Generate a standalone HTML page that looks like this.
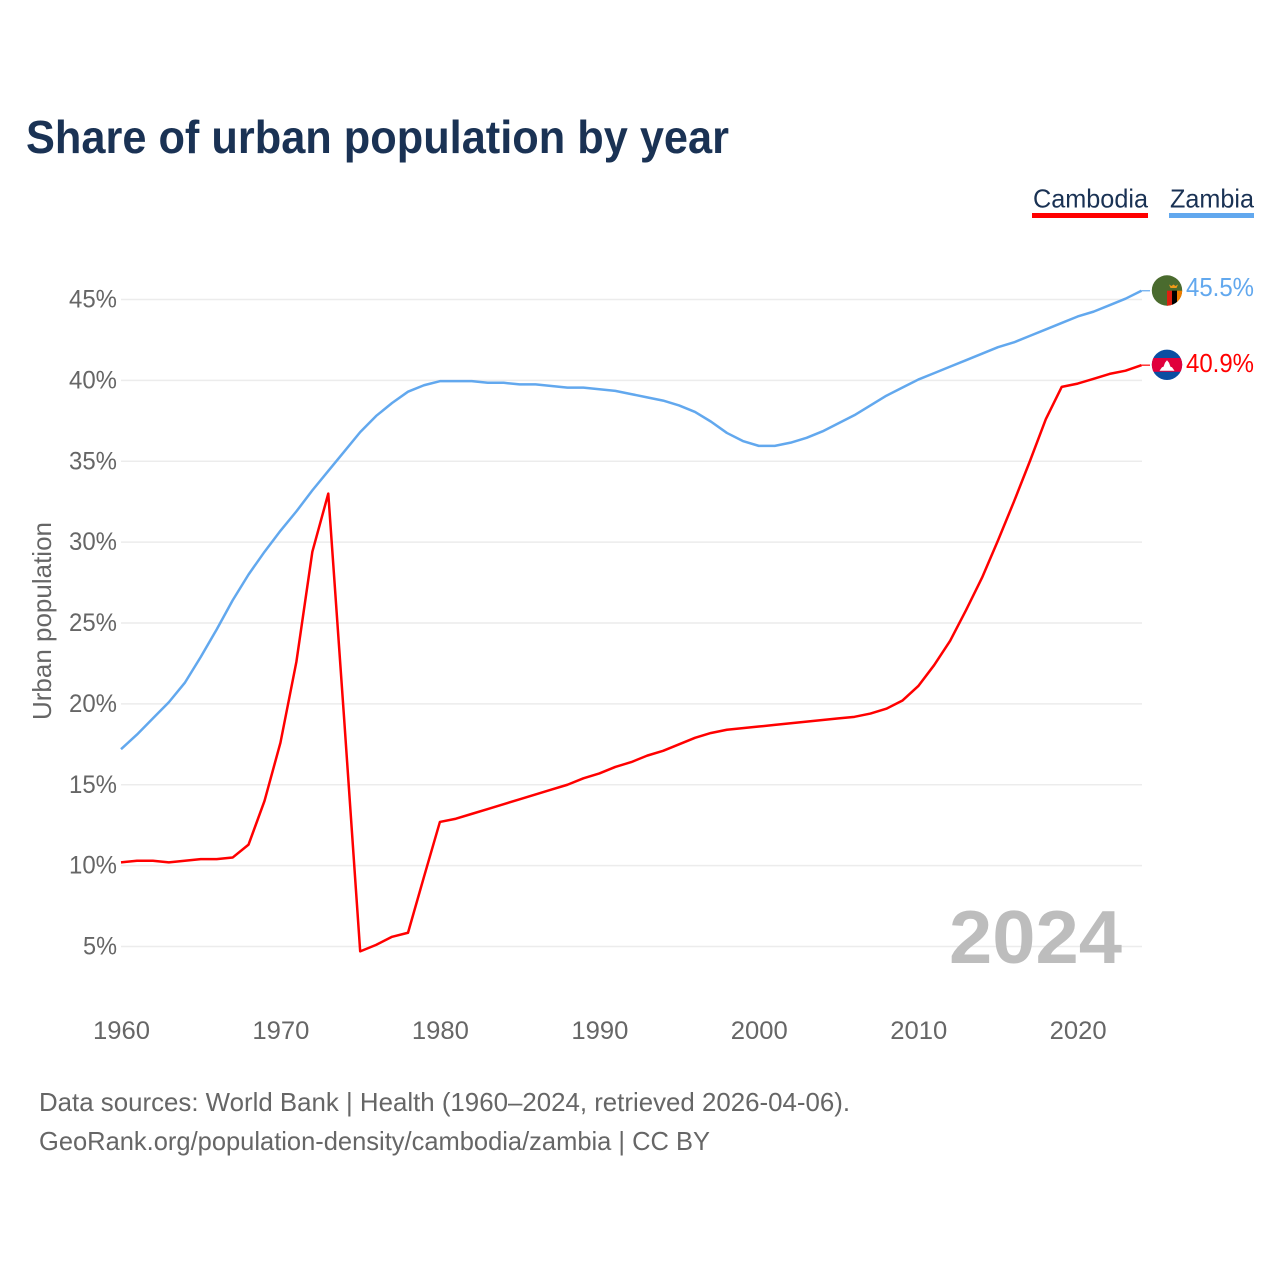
<!DOCTYPE html>
<html lang="en">
<head>
<meta charset="utf-8">
<title>Share of urban population by year</title>
<style>
html,body{margin:0;padding:0;background:#fff;width:1280px;height:1280px;overflow:hidden}
svg{display:block;font-family:"Liberation Sans",sans-serif}
</style>
</head>
<body>
<svg id="chart" xmlns="http://www.w3.org/2000/svg" width="1280" height="1280" viewBox="0 0 1280 1280">
  <text x="26" y="153" font-size="46" font-weight="700" fill="#1a3254" textLength="703" lengthAdjust="spacingAndGlyphs">Share of urban population by year</text>

  <g>
    <g>
      <text x="1033" y="207.500" font-size="26" fill="#1a3254" textLength="115" lengthAdjust="spacingAndGlyphs">Cambodia</text>
      <rect x="1032" y="213" width="116" height="5" fill="#ff0000"/>
    </g>
    <g>
      <text x="1170" y="207.500" font-size="26" fill="#1a3254" textLength="84" lengthAdjust="spacingAndGlyphs">Zambia</text>
      <rect x="1169" y="213" width="85" height="5" fill="#62a8ee"/>
    </g>
  </g>

  <g id="grid"></g>
  <g id="yticks"></g>
  <g id="xticks"></g>

  <text transform="translate(51,621) rotate(-90)" text-anchor="middle" font-size="26" fill="#666" textLength="198" lengthAdjust="spacingAndGlyphs">Urban population</text>

  <text x="1122" y="963" text-anchor="end" font-size="75" font-weight="700" fill="#bdbdbd" textLength="173" lengthAdjust="spacingAndGlyphs">2024</text>

  <g id="series"></g>

  <defs>
    <clipPath id="flag-clip-zm"><circle cx="1167" cy="290.500" r="15.200"/></clipPath>
    <clipPath id="flag-clip-kh"><circle cx="1167" cy="364.800" r="15.200"/></clipPath>
  </defs>

  <g clip-path="url(#flag-clip-zm)">
    <rect x="1151" y="275" width="32" height="32" fill="#4a6b2e"/>
    <rect x="1167" y="290.700" width="5" height="15.300" fill="#de2010"/>
    <rect x="1172" y="290.700" width="5" height="15.300" fill="#000"/>
    <rect x="1177" y="290.700" width="6" height="15.300" fill="#ef7d00"/>
    <path d="M1169 284.500l2.500 1.500 2-1.500 2 1.500 2.500-1.500-1.500 3.500h-6z" fill="#ef9a1a"/>
  </g>

  <g clip-path="url(#flag-clip-kh)">
    <rect x="1151" y="349" width="32" height="32" fill="#0a4ea2"/>
    <rect x="1151" y="358" width="32" height="13.800" fill="#e0003c"/>
    <path d="M1159.500 370.800l2.500-3.500 1.500-.5 1.500-4 2-2.600 2 2.600 1.500 4 1.500.5 2.500 3.500z" fill="#fff"/>
  </g>

  <text id="end-zambia" x="1186" y="296" font-size="26" fill="#62a8ee" textLength="68" lengthAdjust="spacingAndGlyphs"></text>
  <text id="end-cambodia" x="1186" y="372" font-size="26" fill="#ff0000" textLength="68" lengthAdjust="spacingAndGlyphs"></text>

  <text x="39" y="1111" font-size="26" fill="#666" textLength="811" lengthAdjust="spacingAndGlyphs">Data sources: World Bank | Health (1960–2024, retrieved 2026-04-06).</text>
  <text x="39" y="1150" font-size="26" fill="#666" textLength="671" lengthAdjust="spacingAndGlyphs">GeoRank.org/population-density/cambodia/zambia | CC BY</text>
</svg>

<script>
const startYear = 1960;
const yTickValues = [5, 10, 15, 20, 25, 30, 35, 40, 45];
const xTickValues = [1960, 1970, 1980, 1990, 2000, 2010, 2020];
const cambodiaValues = [10.2,10.3,10.3,10.2,10.3,10.4,10.4,10.5,11.3,14.0,17.6,22.6,29.4,33.0,19.0,4.7,5.1,5.6,5.85,9.3,12.7,12.9,13.2,13.5,13.8,14.1,14.4,14.7,15.0,15.4,15.7,16.1,16.4,16.8,17.1,17.5,17.9,18.2,18.4,18.5,18.6,18.7,18.8,18.9,19.0,19.1,19.2,19.4,19.7,20.2,21.1,22.4,23.9,25.8,27.8,30.1,32.5,35.0,37.6,39.6,39.8,40.1,40.4,40.6,40.94];
const zambiaValues = [17.2,18.1,19.1,20.1,21.3,22.9,24.6,26.4,28.0,29.4,30.7,31.9,33.2,34.4,35.6,36.8,37.8,38.6,39.3,39.7,39.95,39.95,39.95,39.85,39.85,39.75,39.75,39.65,39.55,39.55,39.45,39.35,39.15,38.95,38.75,38.45,38.05,37.45,36.75,36.25,35.95,35.95,36.15,36.45,36.85,37.35,37.85,38.45,39.05,39.55,40.05,40.45,40.85,41.25,41.65,42.05,42.35,42.75,43.15,43.55,43.95,44.25,44.65,45.05,45.54];

const NS = 'http://www.w3.org/2000/svg';
const xScale = function (year) { return 121 + (year - 1960) * 15.945; };
const yScale = function (value) { return 946.5 - (value - 5) * 16.175; };

const grid = document.getElementById('grid');
const yticks = document.getElementById('yticks');
yTickValues.forEach(function (v) {
  const line = document.createElementNS(NS, 'line');
  
  
  line.setAttribute('x1', 121);
  line.setAttribute('x2', 1142);
  line.setAttribute('y1', yScale(v));
  line.setAttribute('y2', yScale(v));
  line.setAttribute('stroke', '#ececec');
  line.setAttribute('stroke-width', 1.5);
  grid.appendChild(line);

  const text = v + '%';
  const label = document.createElementNS(NS, 'text');
  
  
  label.setAttribute('x', 117);
  label.setAttribute('y', yScale(v) + 8);
  label.setAttribute('text-anchor', 'end');
  label.setAttribute('font-size', 25);
  label.setAttribute('fill', '#666');
  label.setAttribute('textLength', (text.length - 1) * 14 + 20);
  label.setAttribute('lengthAdjust', 'spacingAndGlyphs');
  label.textContent = text;
  yticks.appendChild(label);
});

const xticks = document.getElementById('xticks');
xTickValues.forEach(function (y) {
  const label = document.createElementNS(NS, 'text');
  
  
  label.setAttribute('x', xScale(y) + 0.5);
  label.setAttribute('y', 1039);
  label.setAttribute('text-anchor', 'middle');
  label.setAttribute('font-size', 25);
  label.setAttribute('fill', '#666');
  label.setAttribute('textLength', 57);
  label.setAttribute('lengthAdjust', 'spacingAndGlyphs');
  label.textContent = y;
  xticks.appendChild(label);
});

const seriesGroup = document.getElementById('series');
function drawSeries(values, color, name) {
  const pts = values.map(function (v, i) {
    return xScale(startYear + i).toFixed(2) + ',' + yScale(v).toFixed(2);
  }).join(' ');
  const poly = document.createElementNS(NS, 'polyline');
  
  
  poly.setAttribute('points', pts);
  poly.setAttribute('fill', 'none');
  poly.setAttribute('stroke', color);
  poly.setAttribute('stroke-width', 2.5);
  poly.setAttribute('stroke-linejoin', 'round');
  seriesGroup.appendChild(poly);

  const last = values[values.length - 1];
  const conn = document.createElementNS(NS, 'line');
  
  
  conn.setAttribute('x1', xScale(startYear + values.length - 1));
  conn.setAttribute('x2', 1150);
  conn.setAttribute('y1', yScale(last));
  conn.setAttribute('y2', yScale(last));
  conn.setAttribute('stroke', color);
  conn.setAttribute('stroke-width', 1.2);
  seriesGroup.appendChild(conn);
}
drawSeries(zambiaValues, '#62a8ee', 'zambia-line');
drawSeries(cambodiaValues, '#ff0000', 'cambodia-line');

document.getElementById('end-zambia').textContent = zambiaValues[zambiaValues.length - 1].toFixed(1) + '%';
document.getElementById('end-cambodia').textContent = cambodiaValues[cambodiaValues.length - 1].toFixed(1) + '%';
</script>
</body>
</html>
